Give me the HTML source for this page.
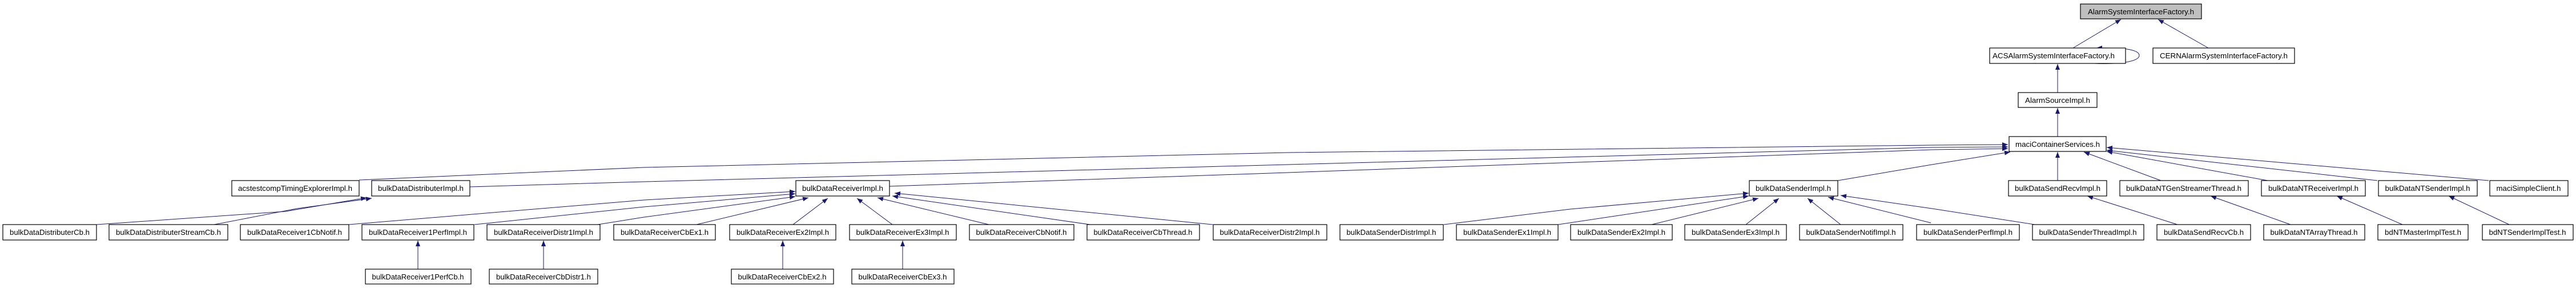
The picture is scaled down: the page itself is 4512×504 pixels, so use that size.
<!DOCTYPE html>
<html><head><meta charset="utf-8"><style>
html,body{margin:0;padding:0;background:#fff;width:4512px;height:504px;overflow:hidden}
svg text{font-family:"Liberation Sans",Arial,sans-serif;font-size:13px;fill:#000}
</style></head><body>
<svg width="4512" height="504" viewBox="0 0 4512 504" xmlns="http://www.w3.org/2000/svg">
<defs><marker id="a" markerUnits="userSpaceOnUse" markerWidth="11" markerHeight="8" refX="10" refY="4" orient="auto"><path d="M0,0 L10,4 L0,8 z" fill="#191970"/></marker></defs>
<g fill="none" stroke="#191970" stroke-width="1" marker-end="url(#a)">
<!-- top -->
<path d="M3631,84 L3715,34"/>
<path d="M3868,84 L3780,34"/>
<path d="M3668,111 C3710,113 3747,108 3747,97 C3747,86 3715,83 3672,84"/>
<path d="M3604,162 L3604,112"/>
<path d="M3604,239 L3604,189"/>
<!-- to maci -->
<path d="M629,315 L1128,293 L2256,267 L3384,254 L3517,253"/>
<path d="M823,327 L1128,318 L2256,288 L3384,258 L3517,257"/>
<path d="M1558,326 L2256,302 L3384,262 L3517,260"/>
<path d="M3219,316 L3384,288 L3521,266"/>
<path d="M3604,316 L3604,266"/>
<path d="M3785,316 L3650,266"/>
<path d="M3972,316 L3690,265"/>
<path d="M4164,316 L3690,263"/>
<path d="M4359,316 L3690,258"/>
<!-- distributer -->
<path d="M169,393 L500,370 L642,346"/>
<path d="M375,393 L520,365 L651,347"/>
<!-- receiver impl -->
<path d="M611,393 L1128,350 L1393,335"/>
<path d="M831,393 L1128,362 L1393,339"/>
<path d="M1047,393 L1128,380 L1393,344"/>
<path d="M1220,393 L1416,346"/>
<path d="M1389,393 L1450,347"/>
<path d="M1563,393 L1501,347"/>
<path d="M1732,393 L1537,346"/>
<path d="M1909,393 L1563,343"/>
<path d="M2124,393 L1567,338"/>
<path d="M732,471 L732,421"/>
<path d="M952,471 L952,421"/>
<path d="M1371,471 L1371,421"/>
<path d="M1581,471 L1581,421"/>
<!-- sender impl -->
<path d="M2529,393 L2750,366 L3063,338"/>
<path d="M2729,393 L3063,343"/>
<path d="M2893,393 L3080,347"/>
<path d="M3058,393 L3116,347"/>
<path d="M3224,393 L3166,347"/>
<path d="M3382,390 L3202,345"/>
<path d="M3564,393 L3384,365 L3224,342"/>
<!-- row5 to row4 right -->
<path d="M3814,393 L3656,343"/>
<path d="M4012,393 L3872,343"/>
<path d="M4208,393 L4093,343"/>
<path d="M4395,393 L4289,343"/>
</g>
<g stroke="#000" stroke-width="1.2" fill="#fff">
<rect x="3644" y="7" width="212" height="26" fill="#bfbfbf"/>
<rect x="3485" y="84" width="238" height="27"/>
<rect x="3771" y="84" width="248" height="27"/>
<rect x="3535" y="162" width="138" height="26"/>
<rect x="3519" y="239" width="170" height="26"/>
<rect x="406" y="316" width="223" height="27"/>
<rect x="651" y="316" width="172" height="27"/>
<rect x="1394" y="316" width="164" height="27"/>
<rect x="3064" y="316" width="155" height="27"/>
<rect x="3518" y="316" width="172" height="27"/>
<rect x="3713" y="316" width="225" height="27"/>
<rect x="3961" y="316" width="182" height="27"/>
<rect x="4166" y="316" width="173" height="27"/>
<rect x="4361" y="316" width="137" height="27"/>
<rect x="5" y="393" width="164" height="27"/>
<rect x="191" y="393" width="208" height="27"/>
<rect x="421" y="393" width="190" height="27"/>
<rect x="634" y="393" width="196" height="27"/>
<rect x="853" y="393" width="198" height="27"/>
<rect x="1075" y="393" width="178" height="27"/>
<rect x="1278" y="393" width="186" height="27"/>
<rect x="1488" y="393" width="187" height="27"/>
<rect x="1698" y="393" width="183" height="27"/>
<rect x="1904" y="393" width="197" height="27"/>
<rect x="2125" y="393" width="199" height="27"/>
<rect x="2347" y="393" width="181" height="27"/>
<rect x="2551" y="393" width="178" height="27"/>
<rect x="2751" y="393" width="178" height="27"/>
<rect x="2951" y="393" width="178" height="27"/>
<rect x="3152" y="393" width="181" height="27"/>
<rect x="3357" y="393" width="180" height="27"/>
<rect x="3560" y="393" width="195" height="27"/>
<rect x="3778" y="393" width="164" height="27"/>
<rect x="3965" y="393" width="177" height="27"/>
<rect x="4165" y="393" width="158" height="27"/>
<rect x="4348" y="393" width="159" height="27"/>
<rect x="640" y="471" width="185" height="26"/>
<rect x="857" y="471" width="190" height="26"/>
<rect x="1281" y="471" width="179" height="26"/>
<rect x="1492" y="471" width="179" height="26"/>
</g>
<g text-anchor="middle" lengthAdjust="spacingAndGlyphs">
<text x="3750" y="25" textLength="186" lengthAdjust="spacingAndGlyphs">AlarmSystemInterfaceFactory.h</text>
<text x="3597" y="102" textLength="214" lengthAdjust="spacingAndGlyphs">ACSAlarmSystemInterfaceFactory.h</text>
<text x="3895" y="102" textLength="224" lengthAdjust="spacingAndGlyphs">CERNAlarmSystemInterfaceFactory.h</text>
<text x="3604" y="180" textLength="114" lengthAdjust="spacingAndGlyphs">AlarmSourceImpl.h</text>
<text x="3604" y="257" textLength="148" lengthAdjust="spacingAndGlyphs">maciContainerServices.h</text>
<text x="517" y="334" textLength="200" lengthAdjust="spacingAndGlyphs">acstestcompTimingExplorerImpl.h</text>
<text x="737" y="334" textLength="150" lengthAdjust="spacingAndGlyphs">bulkDataDistributerImpl.h</text>
<text x="1476" y="334" textLength="142" lengthAdjust="spacingAndGlyphs">bulkDataReceiverImpl.h</text>
<text x="3141" y="334" textLength="132" lengthAdjust="spacingAndGlyphs">bulkDataSenderImpl.h</text>
<text x="3604" y="334" textLength="150" lengthAdjust="spacingAndGlyphs">bulkDataSendRecvImpl.h</text>
<text x="3825" y="334" textLength="202" lengthAdjust="spacingAndGlyphs">bulkDataNTGenStreamerThread.h</text>
<text x="4052" y="334" textLength="158" lengthAdjust="spacingAndGlyphs">bulkDataNTReceiverImpl.h</text>
<text x="4252" y="334" textLength="149" lengthAdjust="spacingAndGlyphs">bulkDataNTSenderImpl.h</text>
<text x="4429" y="334" textLength="113" lengthAdjust="spacingAndGlyphs">maciSimpleClient.h</text>
<text x="87" y="411" textLength="140" lengthAdjust="spacingAndGlyphs">bulkDataDistributerCb.h</text>
<text x="295" y="411" textLength="184" lengthAdjust="spacingAndGlyphs">bulkDataDistributerStreamCb.h</text>
<text x="516" y="411" textLength="166" lengthAdjust="spacingAndGlyphs">bulkDataReceiver1CbNotif.h</text>
<text x="732" y="411" textLength="172" lengthAdjust="spacingAndGlyphs">bulkDataReceiver1PerfImpl.h</text>
<text x="952" y="411" textLength="174" lengthAdjust="spacingAndGlyphs">bulkDataReceiverDistr1Impl.h</text>
<text x="1164" y="411" textLength="154" lengthAdjust="spacingAndGlyphs">bulkDataReceiverCbEx1.h</text>
<text x="1371" y="411" textLength="162" lengthAdjust="spacingAndGlyphs">bulkDataReceiverEx2Impl.h</text>
<text x="1581" y="411" textLength="163" lengthAdjust="spacingAndGlyphs">bulkDataReceiverEx3Impl.h</text>
<text x="1789" y="411" textLength="159" lengthAdjust="spacingAndGlyphs">bulkDataReceiverCbNotif.h</text>
<text x="2002" y="411" textLength="173" lengthAdjust="spacingAndGlyphs">bulkDataReceiverCbThread.h</text>
<text x="2224" y="411" textLength="175" lengthAdjust="spacingAndGlyphs">bulkDataReceiverDistr2Impl.h</text>
<text x="2437" y="411" textLength="157" lengthAdjust="spacingAndGlyphs">bulkDataSenderDistrImpl.h</text>
<text x="2640" y="411" textLength="154" lengthAdjust="spacingAndGlyphs">bulkDataSenderEx1Impl.h</text>
<text x="2840" y="411" textLength="154" lengthAdjust="spacingAndGlyphs">bulkDataSenderEx2Impl.h</text>
<text x="3040" y="411" textLength="154" lengthAdjust="spacingAndGlyphs">bulkDataSenderEx3Impl.h</text>
<text x="3242" y="411" textLength="157" lengthAdjust="spacingAndGlyphs">bulkDataSenderNotifImpl.h</text>
<text x="3447" y="411" textLength="156" lengthAdjust="spacingAndGlyphs">bulkDataSenderPerfImpl.h</text>
<text x="3657" y="411" textLength="171" lengthAdjust="spacingAndGlyphs">bulkDataSenderThreadImpl.h</text>
<text x="3860" y="411" textLength="140" lengthAdjust="spacingAndGlyphs">bulkDataSendRecvCb.h</text>
<text x="4053" y="411" textLength="153" lengthAdjust="spacingAndGlyphs">bulkDataNTArrayThread.h</text>
<text x="4244" y="411" textLength="134" lengthAdjust="spacingAndGlyphs">bdNTMasterImplTest.h</text>
<text x="4427" y="411" textLength="135" lengthAdjust="spacingAndGlyphs">bdNTSenderImplTest.h</text>
<text x="732" y="489" textLength="161" lengthAdjust="spacingAndGlyphs">bulkDataReceiver1PerfCb.h</text>
<text x="952" y="489" textLength="166" lengthAdjust="spacingAndGlyphs">bulkDataReceiverCbDistr1.h</text>
<text x="1370" y="489" textLength="155" lengthAdjust="spacingAndGlyphs">bulkDataReceiverCbEx2.h</text>
<text x="1581" y="489" textLength="155" lengthAdjust="spacingAndGlyphs">bulkDataReceiverCbEx3.h</text>
</g>
</svg>
</body></html>
